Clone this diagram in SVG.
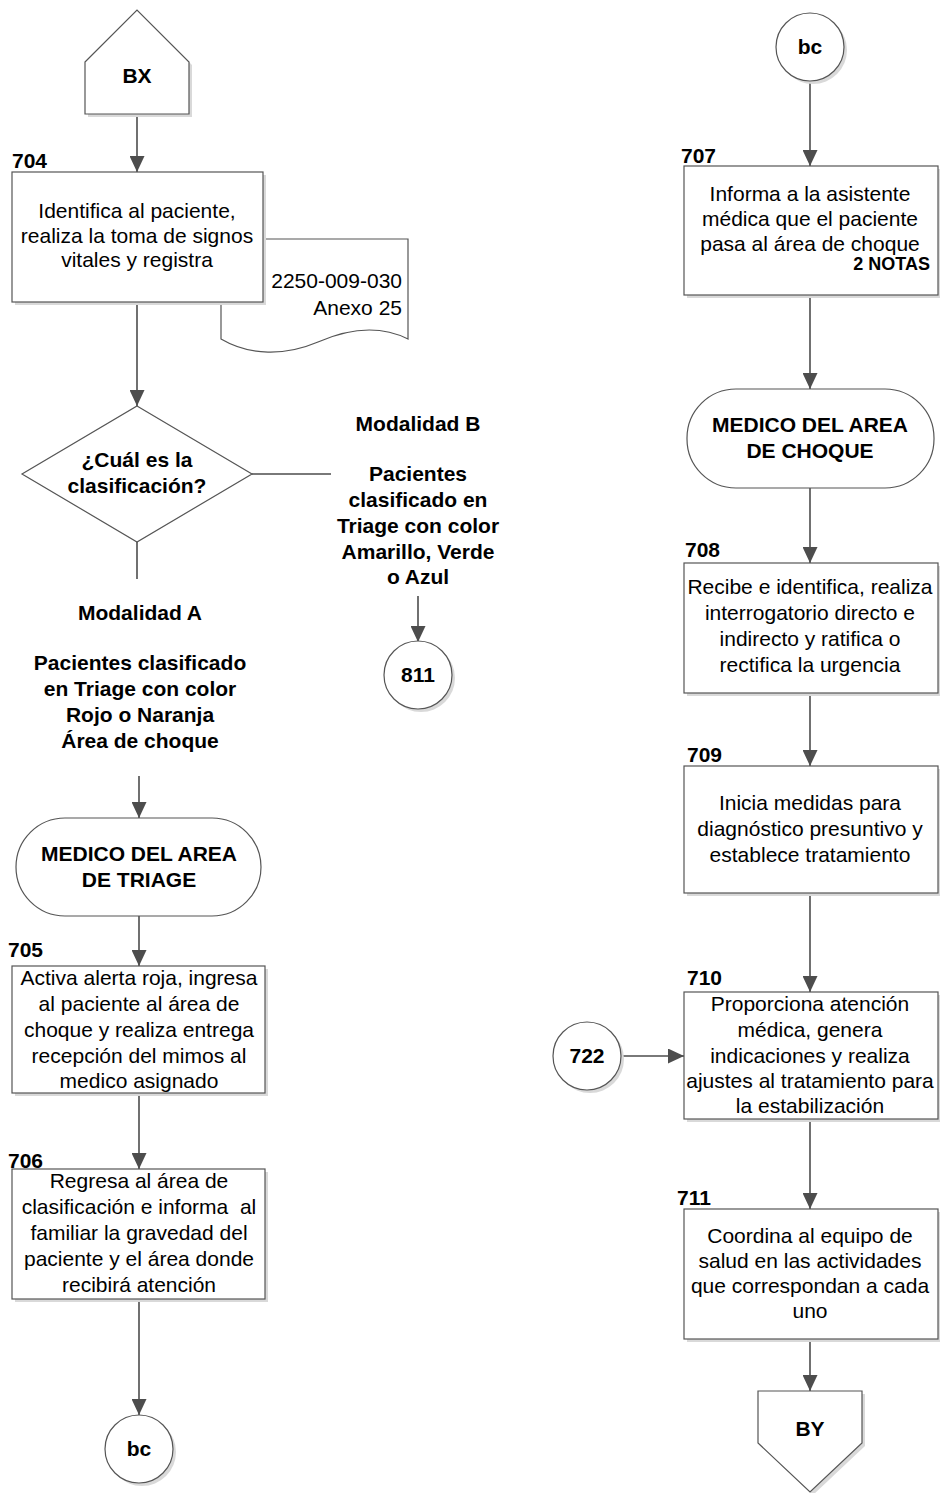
<svg xmlns="http://www.w3.org/2000/svg" width="940" height="1493" viewBox="0 0 940 1493">
  <style>
    .shape { fill: #ffffff; stroke: #555555; stroke-width: 1.2; }
    .shadow { fill: #d9d9d9; stroke: none; }
    .conn { fill: none; stroke: #4d4d4d; stroke-width: 1.6; }
    .t { font-family: "Liberation Sans", Arial, sans-serif; font-size: 21px; fill: #000000; text-anchor: middle; }
    .b { font-family: "Liberation Sans", Arial, sans-serif; font-size: 21px; font-weight: bold; fill: #000000; text-anchor: middle; }
    .id { font-family: "Liberation Sans", Arial, sans-serif; font-size: 21px; font-weight: bold; fill: #000000; }
    .note { font-family: "Liberation Sans", Arial, sans-serif; font-size: 18px; font-weight: bold; fill: #000000; text-anchor: end; }
    .r { font-family: "Liberation Sans", Arial, sans-serif; font-size: 21px; fill: #000000; text-anchor: end; }
    .pre { white-space: pre; }
  </style>
  <defs>
    <marker id="arrow" viewBox="0 0 16 15" markerWidth="16" markerHeight="15" refX="16" refY="7.5" orient="auto" markerUnits="userSpaceOnUse">
      <path d="M0,0 L16,7.5 L0,15 z" fill="#4d4d4d"/>
    </marker>
  </defs>
  <rect width="940" height="1493" fill="#ffffff"/>

  <!-- connectors -->
  <g id="connectors">
    <line class="conn" x1="137" y1="114" x2="137" y2="172" marker-end="url(#arrow)"/>
    <line class="conn" x1="137" y1="302" x2="137" y2="406" marker-end="url(#arrow)"/>
    <line class="conn" x1="252" y1="474" x2="331" y2="474"/>
    <line class="conn" x1="137" y1="542" x2="137" y2="579"/>
    <line class="conn" x1="418" y1="596" x2="418" y2="642" marker-end="url(#arrow)"/>
    <line class="conn" x1="139" y1="776" x2="139" y2="818" marker-end="url(#arrow)"/>
    <line class="conn" x1="139" y1="916" x2="139" y2="966" marker-end="url(#arrow)"/>
    <line class="conn" x1="139" y1="1093" x2="139" y2="1169" marker-end="url(#arrow)"/>
    <line class="conn" x1="139" y1="1299" x2="139" y2="1415" marker-end="url(#arrow)"/>
    <line class="conn" x1="810" y1="81" x2="810" y2="166" marker-end="url(#arrow)"/>
    <line class="conn" x1="810" y1="295" x2="810" y2="389" marker-end="url(#arrow)"/>
    <line class="conn" x1="810" y1="488" x2="810" y2="563" marker-end="url(#arrow)"/>
    <line class="conn" x1="810" y1="693" x2="810" y2="766" marker-end="url(#arrow)"/>
    <line class="conn" x1="810" y1="893" x2="810" y2="992" marker-end="url(#arrow)"/>
    <line class="conn" x1="621" y1="1056" x2="684" y2="1056" marker-end="url(#arrow)"/>
    <line class="conn" x1="810" y1="1119" x2="810" y2="1209" marker-end="url(#arrow)"/>
    <line class="conn" x1="810" y1="1339" x2="810" y2="1391" marker-end="url(#arrow)"/>
  </g>

  <!-- off-page entry BX -->
  <g id="node-bx">
    <polygon class="shadow" points="88,65 140,13 192,65 192,117 88,117"/>
    <polygon class="shape" points="85,62 137,10 189,62 189,114 85,114"/>
    <text class="b" x="137" y="83">BX</text>
  </g>

  <!-- document 2250-009-030 -->
  <g id="node-doc">
    <path class="shape" d="M221,239 H408 V339 C380,325 350,328 318,342 C285,356 250,356 221,339 Z"/>
    <text class="r" x="402" y="288">2250-009-030</text>
    <text class="r" x="402" y="315">Anexo 25</text>
  </g>

  <!-- 704 -->
  <g id="node-704">
    <rect class="shadow" x="15" y="175" width="251" height="130"/>
    <rect class="shape" x="12" y="172" width="251" height="130"/>
    <text class="id" x="12" y="168">704</text>
    <text class="t" x="137" y="218">Identifica al paciente,</text>
    <text class="t" x="137" y="243">realiza la toma de signos</text>
    <text class="t" x="137" y="267">vitales y registra</text>
  </g>

  <!-- decision -->
  <g id="node-decision">
    <polygon class="shape" points="137,406 252,474 137,542 22,474"/>
    <text class="b" x="137" y="467">¿Cuál es la</text>
    <text class="b" x="137" y="493">clasificación?</text>
  </g>

  <!-- branch B label -->
  <g id="label-b">
    <text class="b" x="418" y="431">Modalidad B</text>
    <text class="b" x="418" y="481">Pacientes</text>
    <text class="b" x="418" y="507">clasificado en</text>
    <text class="b" x="418" y="533">Triage con color</text>
    <text class="b" x="418" y="559">Amarillo, Verde</text>
    <text class="b" x="418" y="584">o Azul</text>
  </g>

  <!-- connector 811 -->
  <g id="node-811">
    <circle class="shadow" cx="421" cy="678" r="34"/>
    <circle class="shape" cx="418" cy="675" r="34"/>
    <text class="b" x="418" y="682">811</text>
  </g>

  <!-- branch A label -->
  <g id="label-a">
    <text class="b" x="140" y="620">Modalidad A</text>
    <text class="b" x="140" y="670">Pacientes clasificado</text>
    <text class="b" x="140" y="696">en Triage con color</text>
    <text class="b" x="140" y="722">Rojo o Naranja</text>
    <text class="b" x="140" y="748">Área de choque</text>
  </g>

  <!-- terminator triage -->
  <g id="node-medico-triage">
    <rect class="shape" x="16" y="818" width="245" height="98" rx="49" ry="49"/>
    <text class="b" x="139" y="861">MEDICO DEL AREA</text>
    <text class="b" x="139" y="887">DE TRIAGE</text>
  </g>

  <!-- 705 -->
  <g id="node-705">
    <rect class="shadow" x="15" y="969" width="253" height="127"/>
    <rect class="shape" x="12" y="966" width="253" height="127"/>
    <text class="id" x="8" y="957">705</text>
    <text class="t" x="139" y="985">Activa alerta roja, ingresa</text>
    <text class="t" x="139" y="1011">al paciente al área de</text>
    <text class="t" x="139" y="1037">choque y realiza entrega</text>
    <text class="t" x="139" y="1063">recepción del mimos al</text>
    <text class="t" x="139" y="1088">medico asignado</text>
  </g>

  <!-- 706 -->
  <g id="node-706">
    <rect class="shadow" x="15" y="1172" width="253" height="130"/>
    <rect class="shape" x="12" y="1169" width="253" height="130"/>
    <text class="id" x="8" y="1168">706</text>
    <text class="t" x="139" y="1188">Regresa al área de</text>
    <text class="t pre" x="139" y="1214" xml:space="preserve">clasificación e informa  al</text>
    <text class="t" x="139" y="1240">familiar la gravedad del</text>
    <text class="t" x="139" y="1266">paciente y el área donde</text>
    <text class="t" x="139" y="1292">recibirá atención</text>
  </g>

  <!-- connector bc (exit) -->
  <g id="node-bc-out">
    <circle class="shadow" cx="142" cy="1452" r="34"/>
    <circle class="shape" cx="139" cy="1449" r="34"/>
    <text class="b" x="139" y="1456">bc</text>
  </g>

  <!-- connector bc (entry) -->
  <g id="node-bc-in">
    <circle class="shadow" cx="813" cy="50" r="34"/>
    <circle class="shape" cx="810" cy="47" r="34"/>
    <text class="b" x="810" y="54">bc</text>
  </g>

  <!-- 707 -->
  <g id="node-707">
    <rect class="shadow" x="687" y="169" width="254" height="129"/>
    <rect class="shape" x="684" y="166" width="254" height="129"/>
    <text class="id" x="681" y="163">707</text>
    <text class="t" x="810" y="201">Informa a la asistente</text>
    <text class="t" x="810" y="226">médica que el paciente</text>
    <text class="t" x="810" y="251">pasa al área de choque</text>
    <text class="note" x="930" y="270">2 NOTAS</text>
  </g>

  <!-- terminator choque -->
  <g id="node-medico-choque">
    <rect class="shape" x="687" y="389" width="247" height="99" rx="49" ry="49"/>
    <text class="b" x="810" y="432">MEDICO DEL AREA</text>
    <text class="b" x="810" y="458">DE CHOQUE</text>
  </g>

  <!-- 708 -->
  <g id="node-708">
    <rect class="shadow" x="687" y="566" width="254" height="130"/>
    <rect class="shape" x="684" y="563" width="254" height="130"/>
    <text class="id" x="685" y="557">708</text>
    <text class="t" x="810" y="594">Recibe e identifica, realiza</text>
    <text class="t" x="810" y="620">interrogatorio directo e</text>
    <text class="t" x="810" y="646">indirecto y ratifica o</text>
    <text class="t" x="810" y="672">rectifica la urgencia</text>
  </g>

  <!-- 709 -->
  <g id="node-709">
    <rect class="shadow" x="687" y="769" width="254" height="127"/>
    <rect class="shape" x="684" y="766" width="254" height="127"/>
    <text class="id" x="687" y="762">709</text>
    <text class="t" x="810" y="810">Inicia medidas para</text>
    <text class="t" x="810" y="836">diagnóstico presuntivo y</text>
    <text class="t" x="810" y="862">establece tratamiento</text>
  </g>

  <!-- 722 -->
  <g id="node-722">
    <circle class="shadow" cx="590" cy="1059" r="34"/>
    <circle class="shape" cx="587" cy="1056" r="34"/>
    <text class="b" x="587" y="1063">722</text>
  </g>

  <!-- 710 -->
  <g id="node-710">
    <rect class="shadow" x="687" y="995" width="254" height="127"/>
    <rect class="shape" x="684" y="992" width="254" height="127"/>
    <text class="id" x="687" y="985">710</text>
    <text class="t" x="810" y="1011">Proporciona atención</text>
    <text class="t" x="810" y="1037">médica, genera</text>
    <text class="t" x="810" y="1063">indicaciones y realiza</text>
    <text class="t" x="810" y="1088">ajustes al tratamiento para</text>
    <text class="t" x="810" y="1113">la estabilización</text>
  </g>

  <!-- 711 -->
  <g id="node-711">
    <rect class="shadow" x="687" y="1212" width="254" height="130"/>
    <rect class="shape" x="684" y="1209" width="254" height="130"/>
    <text class="id" x="677" y="1205">711</text>
    <text class="t" x="810" y="1243">Coordina al equipo de</text>
    <text class="t" x="810" y="1268">salud en las actividades</text>
    <text class="t" x="810" y="1293">que correspondan a cada</text>
    <text class="t" x="810" y="1318">uno</text>
  </g>

  <!-- off-page exit BY -->
  <g id="node-by">
    <polygon class="shadow" points="761,1394 865,1394 865,1446 813,1495 761,1446"/>
    <polygon class="shape" points="758,1391 862,1391 862,1443 810,1492 758,1443"/>
    <text class="b" x="810" y="1436">BY</text>
  </g>
</svg>
